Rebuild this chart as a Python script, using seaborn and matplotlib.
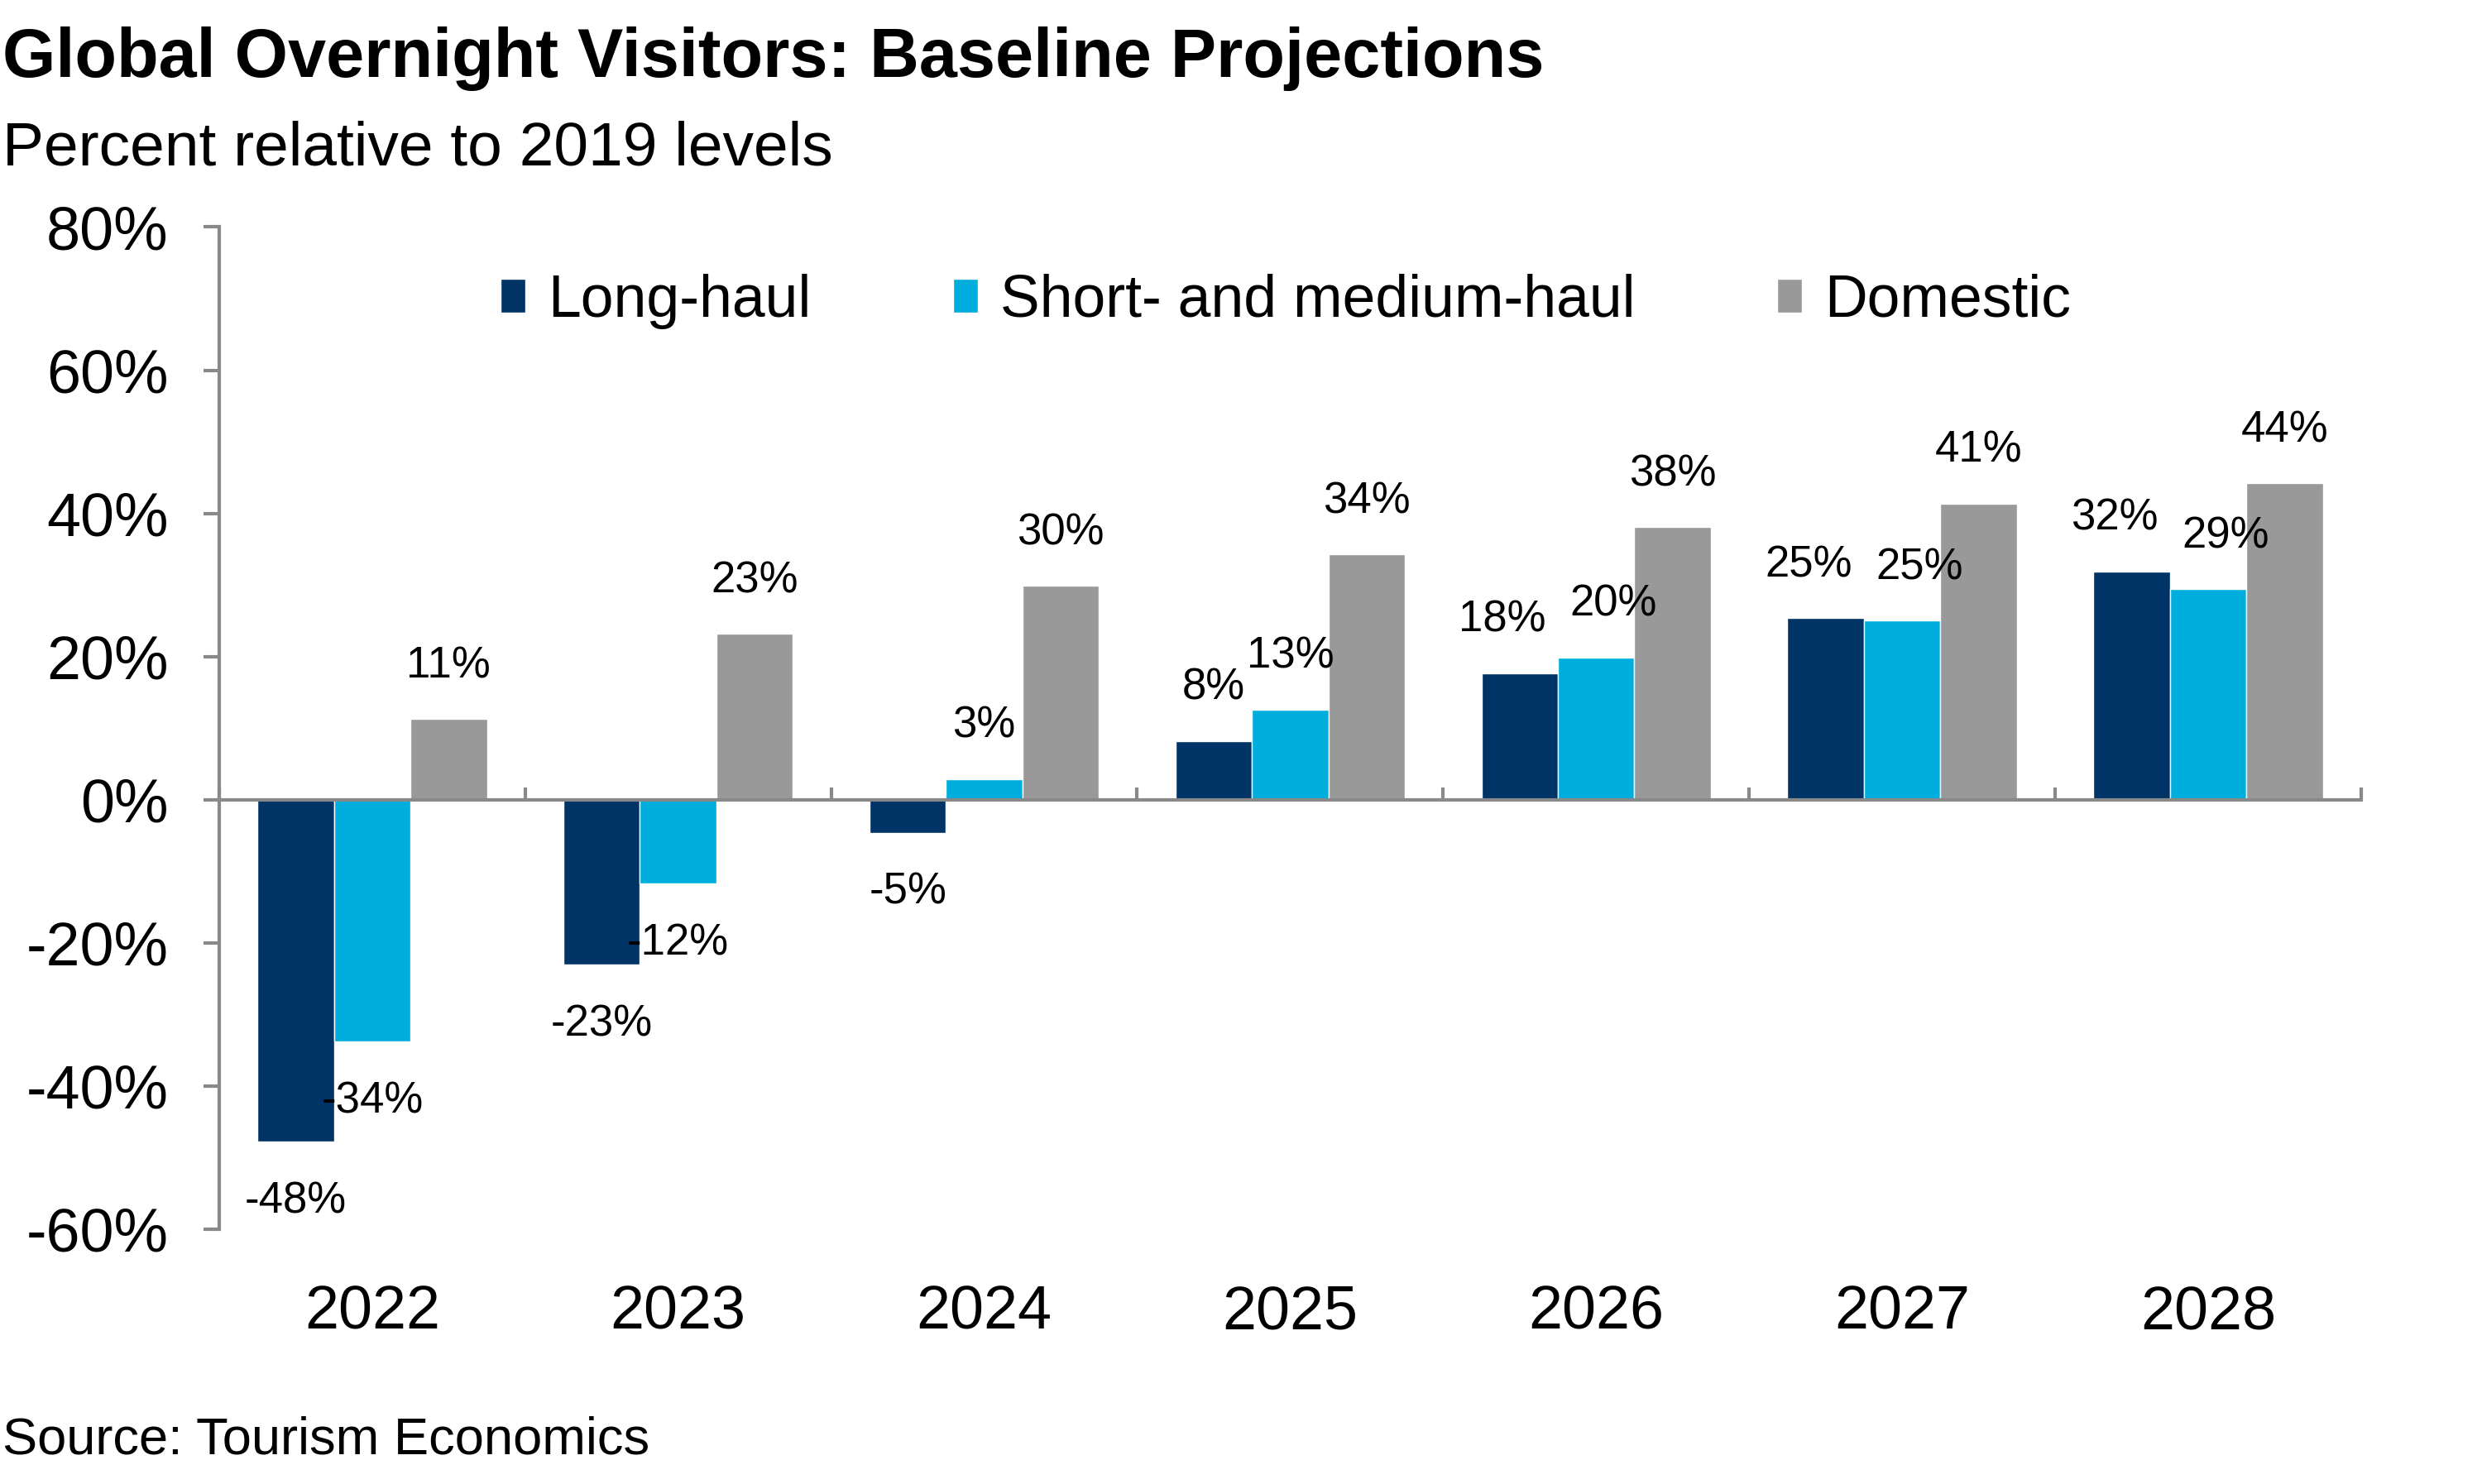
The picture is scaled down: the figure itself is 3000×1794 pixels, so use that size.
import numpy as np
import pandas as pd
import matplotlib
matplotlib.use('Agg')
import matplotlib.pyplot as plt
import seaborn as sns

# Values (percent relative to 2019)
years = ['2022', '2023', '2024', '2025', '2026', '2027', '2028']
series = ['Long-haul', 'Short- and medium-haul', 'Domestic']
long_haul = [-47.8, -23.0, -4.6, 8.2, 17.7, 25.4, 31.9]
short_medium = [-33.8, -11.7, 2.9, 12.6, 19.9, 25.0, 29.4]
domestic = [11.3, 23.2, 29.9, 34.3, 38.1, 41.4, 44.2]
colors = ['#003466', '#00AEDD', '#999999']
yticks = [-60, -40, -20, 0, 20, 40, 60, 80]

df = pd.DataFrame({
    'year': years * 3,
    'series': np.repeat(series, len(years)),
    'value': long_haul + short_medium + domestic,
})

sns.set_style('white')
plt.rcParams['font.family'] = ['Liberation Sans', 'DejaVu Sans']
plt.rcParams['text.color'] = 'black'
plt.rcParams['xtick.labelcolor'] = 'black'
plt.rcParams['ytick.labelcolor'] = 'black'
axis_grey = '#898989'

fig = plt.figure(figsize=(30, 17.94), dpi=100)
ax = fig.add_axes([0.0883, 0.1717, 0.863, 0.6753])

sns.barplot(data=df, x='year', y='value', hue='series', hue_order=series,
            palette=colors, saturation=1, width=0.75, gap=0,
            errorbar=None, ax=ax)

ax.set_ylim(-60, 80)
ax.set_xlim(-0.5, len(years) - 0.5)
ax.set_xlabel('')
ax.set_ylabel('')

# y axis
ax.set_yticks(yticks)
ax.set_yticklabels([f'{t}%' for t in yticks])
ax.tick_params(axis='y', which='major', direction='out', length=14, width=3,
               color=axis_grey, pad=30, labelsize=53, left=True)

# zero line with category boundary ticks
for s in ['top', 'right']:
    ax.spines[s].set_visible(False)
ax.spines['left'].set_color(axis_grey)
ax.spines['left'].set_linewidth(3)
ax.spines['bottom'].set_position(('data', 0))
ax.spines['bottom'].set_color(axis_grey)
ax.spines['bottom'].set_linewidth(3)
ax.set_xticks(np.arange(-0.5, len(years)), minor=True)
ax.tick_params(axis='x', which='minor', direction='in', length=11, width=3,
               color=axis_grey, bottom=True)
ax.tick_params(axis='x', which='major', length=0, labelbottom=False)

# year labels at the bottom of the plot area
sec = ax.secondary_xaxis(0.0)
sec.set_xticks(range(len(years)))
sec.set_xticklabels(years)
sec.tick_params(length=0, pad=48, labelsize=53, labelcolor='black')
sec.spines['bottom'].set_visible(False)

# data labels; long/short labels of near-equal height get pushed apart
lh_bars, sm_bars, dom_bars = ax.containers
for i, (b1, b2) in enumerate(zip(lh_bars, sm_bars)):
    h1, h2 = b1.get_height(), b2.get_height()
    nudge = 15 if (h1 > 0 and h2 > 0 and abs(h1 - h2) < 3) else 0
    for bar, dx in ((b1, -nudge), (b2, nudge), (dom_bars[i], 0)):
        h = bar.get_height()
        ax.annotate(f'{h:.0f}%', xy=(bar.get_x() + bar.get_width() / 2, h),
                    xytext=(dx, 46 if h >= 0 else -52), textcoords='offset points',
                    ha='center', va='center', fontsize=38)

# legend
handles, labels = ax.get_legend_handles_labels()
ax.legend_.remove()
ax.legend(handles, labels, loc='center', bbox_to_anchor=(0.518, 0.797),
          bbox_transform=fig.transFigure, ncol=3, frameon=False, fontsize=51.5,
          handlelength=0.42, handleheight=0.5, handletextpad=0.38,
          columnspacing=2.4, borderpad=0, borderaxespad=0)

fig.text(0.001, 0.948, 'Global Overnight Visitors: Baseline Projections',
         fontsize=59.7, fontweight='bold', va='baseline', ha='left')
fig.text(0.001, 0.889, 'Percent relative to 2019 levels',
         fontsize=54, va='baseline', ha='left')
fig.text(0.001, 0.0206, 'Source: Tourism Economics',
         fontsize=45.5, va='baseline', ha='left')

fig.savefig('out.png', dpi=100)
